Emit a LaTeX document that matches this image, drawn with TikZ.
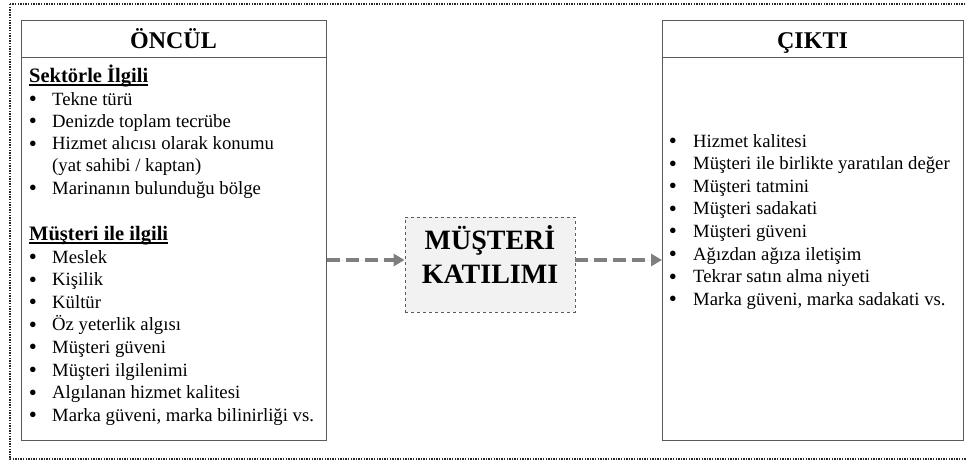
\documentclass[tikz,border=0pt]{standalone}
\usepackage{fontspec}
\setmainfont{Liberation Serif}
\usetikzlibrary{arrows.meta}

\definecolor{boxline}{HTML}{5A5A5A}
\definecolor{flowgray}{HTML}{7F7F7F}
\definecolor{midfill}{HTML}{F2F2F2}

\begin{document}
\begin{tikzpicture}[
    x=1pt, y=-1pt,
    box/.style={draw=boxline, line width=1pt, anchor=north west, inner sep=0pt},
    title/.style={anchor=base, inner sep=0pt, font=\fontsize{24}{28}\selectfont\bfseries},
    head/.style={anchor=base west, inner sep=0pt, font=\fontsize{20.5}{24}\selectfont\bfseries},
    dot/.style={anchor=base, inner sep=0pt, yshift=-1.5pt, font=\fontsize{23}{24}\selectfont},
    item/.style={anchor=base west, inner sep=0pt, font=\fontsize{18.7}{22}\selectfont},
    uline/.style={line width=1.4pt, black},
    flow/.style={-{Triangle[length=11pt, width=12pt]}, draw=flowgray, fill=flowgray,
                 line width=4pt, dash pattern=on 13pt off 6pt}
  ]
  \useasboundingbox (0,0) rectangle (966,464);

  % outer frame
  \draw[black!85, line width=1.1pt, dash pattern=on 1.4pt off 1.2pt] (10,4) rectangle (970,459);

  % left box
  \node[box, minimum width=305pt, minimum height=420pt] (oncul) at (21,20) {};
  \draw[boxline, line width=1pt] ([yshift=-37pt]oncul.north west) -- ([yshift=-37pt]oncul.north east);
  \node[title] (oncultitle) at (173.5,48) {ÖNCÜL};

  \node[head] (sektor) at (29,82) {Sektörle İlgili};
  \draw[uline] ([yshift=-3pt]sektor.base west) -- ([yshift=-3pt]sektor.base east);
  \foreach \txt [count=\i] in {Tekne türü, Denizde toplam tecrübe, Hizmet alıcısı olarak konumu} {
    \node[dot] (sb\i) at (33,{105+22.3*(\i-1)}) {•};
    \node[item] (st\i) at (52,{105+22.3*(\i-1)}) {\txt};
  }
  \node[item] (st4) at (52,171.9) {(yat sahibi / kaptan)};
  \node[dot] (sb5) at (33,194.2) {•};
  \node[item] (st5) at (52,194.2) {Marinanın bulunduğu bölge};

  \node[head] (musteri) at (29,240) {Müşteri ile ilgili};
  \draw[uline] ([yshift=-3pt]musteri.base west) -- ([yshift=-3pt]musteri.base east);
  \foreach \txt [count=\i] in {Meslek, Kişilik, Kültür, Öz yeterlik algısı, Müşteri güveni,
      Müşteri ilgilenimi, Algılanan hizmet kalitesi, {Marka güveni, marka bilinirliği vs.}} {
    \node[dot] (mb\i) at (33,{263+22.6*(\i-1)}) {•};
    \node[item] (mt\i) at (52,{263+22.6*(\i-1)}) {\txt};
  }

  % middle box
  \node[draw=boxline, fill=midfill, dashed, line width=0.8pt, inner sep=0pt,
        minimum width=170pt, minimum height=95pt] (katilim) at (490,264.5) {};
  \node[align=center, inner sep=0pt, font=\fontsize{28}{34}\selectfont\bfseries]
        (katilimtext) at (490,254) {MÜŞTERİ\\KATILIMI};

  % right box
  \node[box, minimum width=301pt, minimum height=420pt] (cikti) at (662,20) {};
  \draw[boxline, line width=1pt] ([yshift=-37pt]cikti.north west) -- ([yshift=-37pt]cikti.north east);
  \node[title] (ciktititle) at (812.5,48) {ÇIKTI};

  \foreach \txt [count=\i] in {Hizmet kalitesi, Müşteri ile birlikte yaratılan değer, Müşteri tatmini,
      Müşteri sadakati, Müşteri güveni, Ağızdan ağıza iletişim, Tekrar satın alma niyeti,
      {Marka güveni, marka sadakati vs.}} {
    \node[dot] (cb\i) at (673,{147+22.6*(\i-1)}) {•};
    \node[item] (ct\i) at (693,{147+22.6*(\i-1)}) {\txt};
  }

  % arrows
  \draw[flow] ([yshift=4.5pt]katilim.west -| oncul.east) -- ([yshift=4.5pt]katilim.west);
  \draw[flow] ([yshift=4.5pt]katilim.east) -- ([yshift=4.5pt]katilim.east -| cikti.west);
\end{tikzpicture}
\end{document}
